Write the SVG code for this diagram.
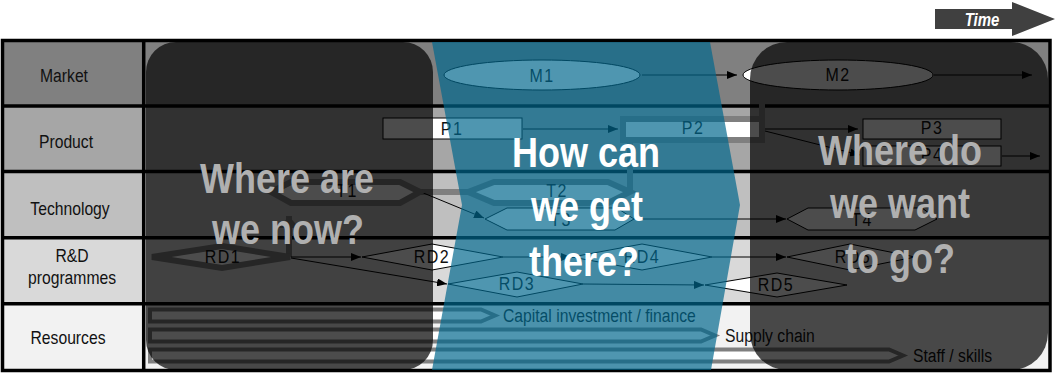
<svg xmlns="http://www.w3.org/2000/svg" width="1056" height="374" viewBox="0 0 1056 374">
<style>
.lbl{font-family:"Liberation Sans",Arial,sans-serif;font-size:15.7px;fill:#111;text-anchor:middle}
.nl{font-family:"Liberation Sans",Arial,sans-serif;font-size:16px;fill:#111;text-anchor:middle;letter-spacing:1.5px}
.res{font-family:"Liberation Sans",Arial,sans-serif;font-size:15.7px;fill:#111}
.q{font-family:"Liberation Sans",Arial,sans-serif;font-size:36px;font-weight:bold;text-anchor:middle}
.qg{fill:#b0b0b0}
.qw{fill:#fff}
.thin{fill:#fff;stroke:#000;stroke-width:1}
.thick{fill:#fff;stroke:#7f7f7f;stroke-width:6}
.conn{stroke:#000;stroke-width:1;fill:none;marker-end:url(#ah)}
.tconn{stroke:#7f7f7f;stroke-width:6;fill:none}
.bar{fill:#fff;stroke:#7f7f7f;stroke-width:4}
.grid{stroke:#000;stroke-width:3.5;fill:none}
.dark{fill:#000;fill-opacity:0.7}
</style>
<defs>
<marker id="ah" viewBox="0 0 10 8" refX="10" refY="4" markerWidth="10" markerHeight="8" markerUnits="userSpaceOnUse" orient="auto"><path d="M0,0 L10,4 L0,8 z" fill="#000"/></marker>
<marker id="tah" viewBox="0 0 12 20" refX="12" refY="10" markerWidth="12" markerHeight="20" markerUnits="userSpaceOnUse" orient="auto"><path d="M0,0 L12,10 L0,20 z" fill="#7f7f7f"/></marker>
</defs>

<g id="table">
<rect x="4" y="40" width="1045" height="66" fill="#808080"/>
<rect x="4" y="106" width="1045" height="66" fill="#a6a6a6"/>
<rect x="4" y="172" width="1045" height="66" fill="#bfbfbf"/>
<rect x="4" y="238" width="1045" height="66" fill="#d9d9d9"/>
<rect x="4" y="304" width="1045" height="67" fill="#f2f2f2"/>
<rect class="grid" x="2.5" y="40.5" width="1047.5" height="330" stroke-width="3"/>
<line class="grid" x1="143.7" y1="40" x2="143.7" y2="371" stroke-width="4"/>
<line class="grid" x1="2" y1="106" x2="1050" y2="106"/>
<line class="grid" x1="2" y1="171.5" x2="1050" y2="171.5"/>
<line class="grid" x1="2" y1="237.7" x2="1050" y2="237.7"/>
<line class="grid" x1="2" y1="303.7" x2="1050" y2="303.7"/>
<text class="lbl" transform="matrix(1 0 0 1.2 64 82)">Market</text>
<text class="lbl" transform="matrix(1 0 0 1.2 66 148)">Product</text>
<text class="lbl" transform="matrix(1 0 0 1.2 70 215)">Technology</text>
<text class="lbl" transform="matrix(1 0 0 1.2 72 262)">R&amp;D</text>
<text class="lbl" transform="matrix(1 0 0 1.2 72 284)">programmes</text>
<text class="lbl" transform="matrix(1 0 0 1.2 68 344)">Resources</text>
</g>

<g id="connectors">
<line class="tconn" x1="762" y1="116" x2="762" y2="90"/>
<line class="tconn" x1="630" y1="192" x2="630" y2="143"/>
<line class="tconn" x1="421" y1="192" x2="468" y2="192"/>
<line class="tconn" x1="289" y1="257" x2="289" y2="216" marker-end="url(#tah)"/>
<line class="conn" x1="642" y1="75" x2="737" y2="75"/>
<line class="conn" x1="934" y1="75" x2="1032" y2="75"/>
<line class="conn" x1="523" y1="129" x2="618" y2="129"/>
<line class="conn" x1="765" y1="129" x2="858" y2="129"/>
<line class="conn" x1="765" y1="131" x2="860" y2="155"/>
<line class="conn" x1="1002" y1="156" x2="1040" y2="156"/>
<line class="conn" x1="421" y1="192" x2="484" y2="218"/>
<line class="conn" x1="634" y1="219" x2="786" y2="219"/>
<line class="conn" x1="291" y1="257" x2="361" y2="257"/>
<line class="conn" x1="291" y1="258" x2="447" y2="284"/>
<line class="conn" x1="503" y1="257" x2="571" y2="257"/>
<line class="conn" x1="712" y1="257" x2="786" y2="257"/>
<line class="conn" x1="583" y1="284" x2="704" y2="285"/>
</g>

<g id="M1"><ellipse class="thin" cx="542" cy="75" rx="98" ry="15"/><text class="nl" transform="matrix(1 0 0 1.2 542 82)">M1</text></g>
<g id="M2"><ellipse class="thin" cx="838" cy="75" rx="95" ry="15" stroke="none"/><text class="nl" transform="matrix(1 0 0 1.2 838 81)">M2</text></g>
<g id="P1"><rect class="thin" x="383" y="118" width="139" height="21"/><text class="nl" transform="matrix(1 0 0 1.2 452 135)">P1</text></g>
<g id="P2"><rect class="thick" x="623" y="119" width="139" height="21"/><text class="nl" transform="matrix(1 0 0 1.2 693 134)">P2</text></g>
<g id="P3"><rect class="thin" x="863" y="119" width="138" height="20"/><text class="nl" transform="matrix(1 0 0 1.2 932 134)">P3</text></g>
<g id="P4"><rect class="thin" x="863" y="146" width="138" height="20"/><text class="nl" transform="matrix(1 0 0 1.2 932 161)">P4</text></g>
<g id="T1"><polygon class="thick" points="271,192 291,182 400,182 420,192 400,203 291,203"/><text class="nl" transform="matrix(1 0 0 1.2 347 197)">T1</text></g>
<g id="T2"><polygon class="thick" points="468,192 494,182 608,182 630,192 608,203 494,203"/><text class="nl" transform="matrix(1 0 0 1.2 557 197)">T2</text></g>
<g id="T3"><polygon class="thin" points="485,219 507,208 617,208 634,219 615,230 507,230"/><text class="nl" transform="matrix(1 0 0 1.2 561 226)">T3</text></g>
<g id="T4"><polygon class="thin" points="787,219 808,208 922,208 937,219 915,230 808,230"/><text class="nl" transform="matrix(1 0 0 1.2 862 226)">T4</text></g>
<g id="RD1"><polygon class="thick" points="152,257 222,246 290,257 222,268"/><text class="nl" transform="matrix(1 0 0 1.2 223 263)">RD1</text></g>
<g id="RD2"><polygon class="thin" points="362,257 432,244 503,257 432,270"/><text class="nl" transform="matrix(1 0 0 1.2 432 263)">RD2</text></g>
<g id="RD3"><polygon class="thin" points="448,284 517,272 583,284 517,297"/><text class="nl" transform="matrix(1 0 0 1.2 517 290)">RD3</text></g>
<g id="RD4"><polygon class="thin" points="572,257 642,244 712,257 642,270"/><text class="nl" transform="matrix(1 0 0 1.2 642 263)">RD4</text></g>
<g id="RD5"><polygon class="thin" points="705,285 777,273 847,285 777,297"/><text class="nl" transform="matrix(1 0 0 1.2 776 291)">RD5</text></g>
<g id="RD6"><polygon class="thin" points="787,257 850,244 915,257 850,270"/><text class="nl" transform="matrix(1 0 0 1.2 853 263)">RD6</text></g>

<g id="resources">
<polygon class="bar" points="150,309.5 481,309.5 495,315.5 481,321.5 150,321.5"/>
<polygon class="bar" points="150,329.5 701,329.5 715,335.5 701,341.5 150,341.5"/>
<polygon class="bar" points="150,349.5 889,349.5 903,355.5 889,361.5 150,361.5"/>
<text class="res" transform="matrix(1 0 0 1.2 503 322)">Capital investment / finance</text>
<text class="res" transform="matrix(1 0 0 1.2 725 342)">Supply chain</text>
<text class="res" transform="matrix(1 0 0 1.2 913 362)">Staff / skills</text>
</g>

<g id="now">
<rect class="dark" x="146" y="42" width="287" height="328" rx="30"/>
<text class="q qg" transform="matrix(1 0 0 1.2 287 193)">Where are</text>
<text class="q qg" transform="matrix(1 0 0 1.2 288 244)">we now?</text>
</g>
<g id="how">
<polygon points="432,42 710,42 740,205 711,370 432,370 462,205" fill="#00678c" fill-opacity="0.69"/>
<text class="q qw" transform="matrix(1 0 0 1.2 586 167)">How can</text>
<text class="q qw" transform="matrix(1 0 0 1.2 587 221)">we get</text>
<text class="q qw" transform="matrix(1 0 0 1.2 584 276)">there?</text>
</g>
<g id="where">
<rect class="dark" x="750" y="42" width="298" height="328" rx="37"/>
<text class="q qg" transform="matrix(1 0 0 1.2 900 165)">Where do</text>
<text class="q qg" transform="matrix(1 0 0 1.2 900 218)">we want</text>
<text class="q qg" transform="matrix(1 0 0 1.2 900 273)">to go?</text>
</g>

<g id="time">
<polygon points="935,9 1012,9 1012,2 1055,19 1012,36 1012,29 935,29" fill="#404040"/>
<text transform="matrix(1 0 0 1.2 982 26)" font-family="Liberation Sans, Arial, sans-serif" font-size="15" font-weight="bold" font-style="italic" fill="#fff" text-anchor="middle">Time</text>
</g>
</svg>
